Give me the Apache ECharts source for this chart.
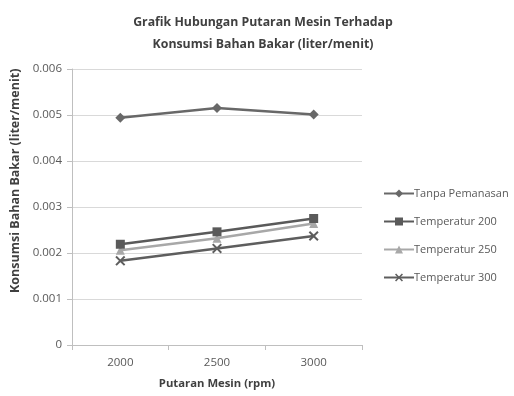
<!DOCTYPE html>
<html>
<head>
<meta charset="utf-8">
<script src="https://cdn.jsdelivr.net/npm/echarts@6/dist/echarts.min.js"></script>
<style>html,body{margin:0;padding:0;background:#fff}#c{width:514px;height:396px}</style>
</head>
<body>
<div id="c"></div>
<script>
const categories = ['2000', '2500', '3000'];
const seriesNames = ['Tanpa Pemanasan', 'Temperatur 200', 'Temperatur 250', 'Temperatur 300'];
const tanpaPemanasan = [0.00494, 0.00515, 0.00501];
const temperatur200 = [0.00219, 0.00246, 0.00275];
const temperatur250 = [0.00206, 0.00232, 0.00264];
const temperatur300 = [0.00183, 0.00210, 0.00237];
const yTicks = [0, 0.001, 0.002, 0.003, 0.004, 0.005, 0.006];

const FONT = '"Open Sans", "Noto Sans", sans-serif';
const xSym = 'path://M0,1.4L1.4,0L5,3.6L8.6,0L10,1.4L6.4,5L10,8.6L8.6,10L5,6.4L1.4,10L0,8.6L3.6,5Z';
const styles = [
  {color: '#686868', symbol: 'diamond', size: 10},
  {color: '#5a5a5a', symbol: 'rect', size: 9},
  {color: '#a8a8a8', symbol: 'triangle', size: 9},
  {color: '#5e5e5e', symbol: xSym, size: 10}
];
const values = [tanpaPemanasan, temperatur200, temperatur250, temperatur300];

const chart = echarts.init(document.getElementById('c'), null, {renderer: 'canvas'});
chart.setOption({
  animation: false,
  backgroundColor: '#fff',
  title: {
    text: 'Grafik Hubungan Putaran Mesin Terhadap\nKonsumsi Bahan Bakar (liter/menit)',
    left: 258, top: 6, textAlign: 'center',
    textStyle: {fontFamily: FONT, fontSize: 12.3, fontWeight: 'bold', color: '#404040', lineHeight: 22}
  },
  grid: {left: 72, right: 152, top: 69, bottom: 51},
  legend: {
    orient: 'vertical', left: 378, top: 183,
    itemWidth: 30, itemHeight: 10, itemGap: 17,
    textStyle: {fontFamily: FONT, fontSize: 11, color: '#595959', padding: [0, 0, 0, -5]},
    data: seriesNames
  },
  graphic: [{
    type: 'text', x: 15, y: 293, rotation: Math.PI / 2,
    style: {text: 'Konsumsi Bahan Bakar (liter/menit)', font: 'bold 12.5px ' + FONT, fill: '#404040',
      align: 'left', verticalAlign: 'middle'}
  }],
  xAxis: {
    type: 'category', data: categories, boundaryGap: true,
    name: 'Putaran Mesin (rpm)', nameLocation: 'middle', nameGap: 33,
    nameTextStyle: {fontFamily: FONT, fontSize: 11.3, fontWeight: 'bold', color: '#404040'},
    axisLine: {lineStyle: {color: '#bfbfbf', width: 1}},
    axisTick: {show: true, length: 5, lineStyle: {color: '#bfbfbf'}},
    axisLabel: {fontFamily: FONT, fontSize: 11.5, color: '#595959', margin: 12}
  },
  yAxis: {
    type: 'value', min: 0, max: 0.006, interval: 0.001,
    axisLine: {show: true, lineStyle: {color: '#bfbfbf'}},
    axisTick: {show: true, length: 5, lineStyle: {color: '#bfbfbf'}},
    splitLine: {lineStyle: {color: '#d9d9d9', width: 1}},
    axisLabel: {fontFamily: FONT, fontSize: 11.5, color: '#595959', margin: 10,
      formatter: v => { const t = yTicks.find(x => Math.abs(x - v) < 1e-9); return t === 0 ? '0' : (t !== undefined ? t.toFixed(3) : ''); }}
  },
  series: values.map((d, i) => ({
    name: seriesNames[i], type: 'line', data: d,
    symbol: styles[i].symbol, symbolSize: styles[i].size, showSymbol: true,
    lineStyle: {color: styles[i].color, width: 2.5},
    itemStyle: {color: styles[i].color},
    z: 10 - i
  }))
});
</script>
</body>
</html>
